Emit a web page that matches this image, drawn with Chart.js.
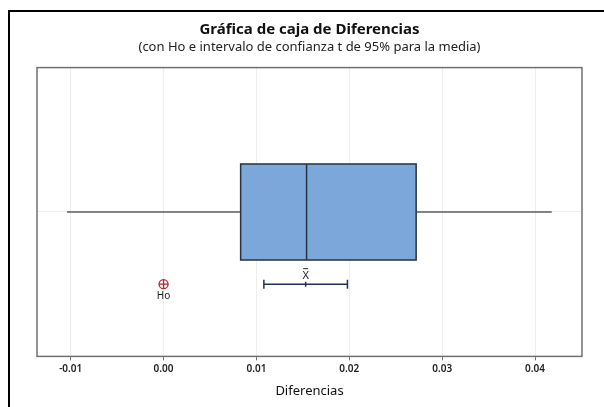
<!DOCTYPE html>
<html>
<head>
<meta charset="utf-8">
<script src="https://cdn.jsdelivr.net/npm/chart.js@4/dist/chart.umd.min.js"></script>
<style>
  html, body { margin: 0; padding: 0; background: #fff; }
  #wrap { width: 604px; height: 407px; }
</style>
</head>
<body>
<div id="wrap"><canvas id="boxChart"></canvas></div>
<script>
// datos
const xTicks = [-0.01, 0.00, 0.01, 0.02, 0.03, 0.04];
const boxValues = [-0.0104, 0.0083, 0.0154, 0.0272, 0.0418]; // min, Q1, mediana, Q3, max
const ciValues = [0.0108, 0.0153, 0.0198]; // inferior, media, superior
const hoValue = [0.00];
const xRange = [-0.01363, 0.04506];

const FONT = "'Noto Sans', 'Open Sans', sans-serif";
const ROW_BOX = 2, BOX_HALF = 0.665, ROW_CI = 1;

document.addEventListener('DOMContentLoaded', function() {
    // marco negro exterior + caja + etiquetas
    var extras = {
        id: 'extras',
        beforeDraw: function(chart) {
            var c = chart.ctx;
            c.save();
            c.fillStyle = '#fff';
            c.fillRect(0, 0, chart.width, chart.height);
            c.strokeStyle = '#000';
            c.lineWidth = 2;
            c.beginPath();
            c.moveTo(9, chart.height);
            c.lineTo(9, 11);
            c.lineTo(chart.width, 11);
            c.stroke();
            c.restore();
        },
        afterDatasetsDraw: function(chart) {
            var c = chart.ctx, x = chart.scales.x, y = chart.scales.y;
            var a = chart.chartArea;
            c.save();
            // caja
            var x1 = x.getPixelForValue(boxValues[1]);
            var x2 = x.getPixelForValue(boxValues[3]);
            var xm = x.getPixelForValue(boxValues[2]);
            var yt = y.getPixelForValue(ROW_BOX + BOX_HALF);
            var yb = y.getPixelForValue(ROW_BOX - BOX_HALF);
            c.fillStyle = '#7ca7da';
            c.fillRect(x1, yt, x2 - x1, yb - yt);
            c.strokeStyle = '#26323f';
            c.lineWidth = 1.5;
            c.strokeRect(x1, yt, x2 - x1, yb - yt);
            c.beginPath();
            c.moveTo(xm, yt);
            c.lineTo(xm, yb);
            c.stroke();

            // etiquetas Ho y media
            c.fillStyle = '#222';
            c.font = '10px ' + FONT;
            c.textAlign = 'center';
            c.textBaseline = 'middle';
            var hx = x.getPixelForValue(hoValue[0]);
            var cy = y.getPixelForValue(ROW_CI);
            c.fillText('Ho', hx, cy + 11.5);
            var mx = x.getPixelForValue(ciValues[1]);
            c.font = '11px ' + FONT;
            c.fillText('X', mx, cy - 8);
            c.strokeStyle = '#222';
            c.lineWidth = 1;
            c.beginPath();
            c.moveTo(mx - 2.5, cy - 15.5);
            c.lineTo(mx + 2.5, cy - 15.5);
            c.stroke();

            // marco del area de datos
            c.strokeStyle = '#707070';
            c.lineWidth = 1.5;
            c.strokeRect(a.left, a.top, a.right - a.left, a.bottom - a.top);
            c.restore();
        }
    };

    var ctx = document.getElementById('boxChart').getContext('2d');
    var boxChart = new Chart(ctx, {
        type: 'scatter',
        data: {
            datasets: [{
                label: 'bigote inf',
                data: [{x: boxValues[0], y: ROW_BOX}, {x: boxValues[1], y: ROW_BOX}],
                showLine: true,
                borderColor: '#111',
                borderWidth: 1.2,
                pointRadius: 0
            }, {
                label: 'bigote sup',
                data: [{x: boxValues[3], y: ROW_BOX}, {x: boxValues[4], y: ROW_BOX}],
                showLine: true,
                borderColor: '#111',
                borderWidth: 1.2,
                pointRadius: 0
            }, {
                label: 'IC',
                data: ciValues.map(function(v) { return {x: v, y: ROW_CI}; }),
                showLine: true,
                borderColor: '#1f2f5e',
                borderWidth: 1.5,
                pointStyle: 'line',
                pointRotation: 90,
                pointRadius: [4.5, 2.5, 4.5],
                pointBorderWidth: 1.5,
                pointBorderColor: '#1f2f5e'
            }, {
                label: 'Ho',
                data: hoValue.map(function(v) { return {x: v, y: ROW_CI}; }),
                pointStyle: 'circle',
                pointRadius: 4.5,
                pointBackgroundColor: 'rgba(0,0,0,0)',
                pointBorderColor: '#b3262a',
                pointBorderWidth: 1.3
            }, {
                label: 'Ho cruz',
                data: hoValue.map(function(v) { return {x: v, y: ROW_CI}; }),
                pointStyle: 'cross',
                pointRadius: 4.5,
                pointBorderColor: '#b3262a',
                pointBorderWidth: 1.3
            }]
        },
        options: {
            responsive: true,
            maintainAspectRatio: false,
            animation: false,
            events: [],
            layout: {
                padding: { left: 37, right: 22, top: 0, bottom: 8 }
            },
            plugins: {
                legend: { display: false },
                tooltip: { enabled: false },
                title: {
                    display: true,
                    fullSize: false,
                    text: 'Gráfica de caja de Diferencias',
                    color: '#111',
                    font: { family: FONT, size: 15, weight: 'bold' },
                    padding: { top: 21, bottom: 0 }
                },
                subtitle: {
                    display: true,
                    fullSize: false,
                    text: '(con Ho e intervalo de confianza t de 95% para la media)',
                    color: '#222',
                    font: { family: FONT, size: 13 },
                    padding: { top: 0, bottom: 13 }
                }
            },
            scales: {
                x: {
                    type: 'linear',
                    min: xRange[0],
                    max: xRange[1],
                    afterBuildTicks: function(axis) {
                        axis.ticks = xTicks.map(function(v) { return {value: v}; });
                    },
                    ticks: {
                        color: '#222',
                        padding: 3,
                        font: { family: FONT, size: 10, weight: '600' },
                        callback: function(v) { return Number(v).toFixed(2); }
                    },
                    grid: {
                        color: '#eeeeee',
                        tickColor: '#777',
                        tickLength: 4
                    },
                    border: { display: false },
                    title: {
                        display: true,
                        text: 'Diferencias',
                        color: '#111',
                        font: { family: FONT, size: 13 },
                        padding: { top: 5, bottom: 0 }
                    }
                },
                y: {
                    type: 'linear',
                    min: 0,
                    max: 4,
                    afterBuildTicks: function(axis) {
                        axis.ticks = [{value: ROW_BOX}];
                    },
                    ticks: { display: false },
                    grid: { color: '#eeeeee', drawTicks: false },
                    border: { display: false }
                }
            }
        },
        plugins: [extras]
    });
});
</script>
</body>
</html>
